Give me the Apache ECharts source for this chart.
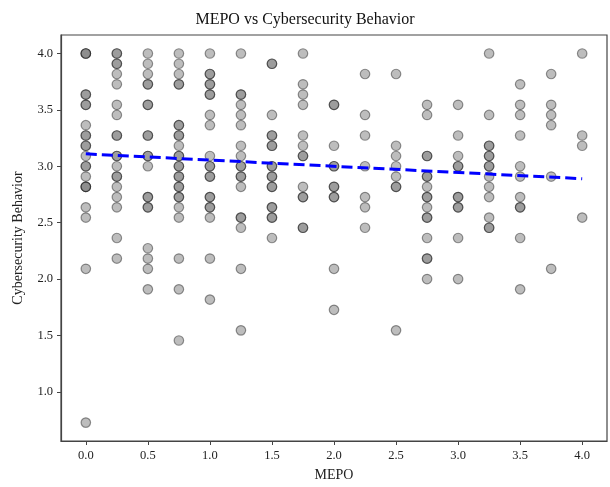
<!DOCTYPE html>
<html>
<head>
<meta charset="utf-8">
<title>MEPO vs Cybersecurity Behavior</title>
<script src="https://cdn.jsdelivr.net/npm/echarts@6/dist/echarts.min.js"></script>
<style>
    html, body { margin: 0; padding: 0; background: #fff; }
    #chart { width: 610px; height: 487px; }
</style>
</head>
<body>
<div id="chart"></div>
<script>
    // MEPO levels (x) and the behaviour scores seen at each level (repeats = overlapping dots)
    var mepoLevels = [0, 0.25, 0.5, 0.75, 1, 1.25, 1.5, 1.75, 2, 2.25, 2.5, 2.75, 3, 3.25, 3.5, 3.75, 4];
    var behavior = [
        [4, 4, 4, 3.636, 3.636, 3.545, 3.545, 3.364, 3.273, 3.273, 3.182, 3.182, 3.091, 3, 3, 2.909, 2.818, 2.818, 2.818, 2.636, 2.545, 2.091, 0.727],
        [4, 4, 3.909, 3.909, 3.818, 3.727, 3.545, 3.455, 3.273, 3.273, 3.091, 3.091, 3, 2.909, 2.909, 2.818, 2.727, 2.636, 2.364, 2.182],
        [4, 3.909, 3.818, 3.727, 3.727, 3.545, 3.545, 3.273, 3.273, 3.091, 3.091, 3, 2.727, 2.727, 2.636, 2.636, 2.273, 2.182, 2.091, 1.909],
        [4, 3.909, 3.818, 3.727, 3.727, 3.364, 3.364, 3.273, 3.273, 3.182, 3.091, 3.091, 3, 3, 2.909, 2.909, 2.818, 2.818, 2.727, 2.727, 2.636, 2.545, 2.182, 1.909, 1.455],
        [4, 3.818, 3.818, 3.727, 3.727, 3.636, 3.636, 3.455, 3.364, 3.091, 3, 3, 2.909, 2.909, 2.727, 2.727, 2.636, 2.636, 2.545, 2.182, 1.818],
        [4, 3.636, 3.636, 3.545, 3.455, 3.364, 3.182, 3.091, 3, 3, 2.909, 2.909, 2.818, 2.545, 2.545, 2.455, 2.091, 1.545],
        [3.909, 3.909, 3.455, 3.273, 3.273, 3.182, 3.182, 3, 3, 2.909, 2.909, 2.818, 2.818, 2.636, 2.636, 2.545, 2.545, 2.364],
        [4, 3.727, 3.636, 3.545, 3.273, 3.182, 3.091, 3.091, 2.818, 2.727, 2.727, 2.455, 2.455],
        [3.545, 3.545, 3.182, 3, 3, 2.818, 2.818, 2.727, 2.727, 2.091, 1.727],
        [3.818, 3.455, 3.273, 3, 2.727, 2.636, 2.455],
        [3.818, 3.182, 3.091, 3, 2.909, 2.818, 2.818, 1.545],
        [3.545, 3.455, 3.091, 3.091, 2.909, 2.909, 2.818, 2.727, 2.727, 2.636, 2.545, 2.545, 2.364, 2.182, 2.182, 2],
        [3.545, 3.273, 3.091, 3, 3, 2.727, 2.727, 2.636, 2.636, 2.364, 2],
        [4, 3.455, 3.182, 3.182, 3.091, 3.091, 3, 3, 2.909, 2.818, 2.727, 2.545, 2.455, 2.455],
        [3.727, 3.545, 3.455, 3.273, 3, 2.909, 2.727, 2.636, 2.636, 2.364, 1.909],
        [3.818, 3.545, 3.455, 3.364, 2.909, 2.091],
        [4, 3.273, 3.182, 2.545]
    ];
    // fitted trend line, end points
    var trendX = [0, 4];
    var trendY = [3.11, 2.89];
    var xTicks = [0, 0.5, 1, 1.5, 2, 2.5, 3, 3.5, 4];
    var yTicks = [1, 1.5, 2, 2.5, 3, 3.5, 4];

    var points = [];
    mepoLevels.forEach(function (m, i) {
        behavior[i].forEach(function (v) { points.push([m, v]); });
    });

    var myChart = echarts.init(document.getElementById('chart'));
    var font = 'Liberation Serif';

    var option = {
        backgroundColor: '#fff',
        animation: false,
        textStyle: { fontFamily: font },
        title: {
            text: 'MEPO vs Cybersecurity Behavior',
            left: 'center',
            top: 7,
            textStyle: { fontFamily: font, fontSize: 16, fontWeight: 'normal', color: '#111' }
        },
        grid: {
            left: 61, right: 3, top: 35, bottom: 46,
            show: true, borderColor: '#444', borderWidth: 1.2, backgroundColor: '#fff'
        },
        xAxis: {
            type: 'value',
            min: -0.2, max: 4.2,
            name: 'MEPO',
            nameLocation: 'middle',
            nameGap: 27,
            nameTextStyle: { fontFamily: font, fontSize: 14, color: '#222' },
            axisLine: { show: true, onZero: false, lineStyle: { color: '#444', width: 1.2 } },
            axisTick: { show: true, length: 4, customValues: xTicks, lineStyle: { color: '#444' } },
            axisLabel: {
                customValues: xTicks, margin: 8, fontSize: 12.5, color: '#222', fontFamily: font,
                formatter: function (v) { return v.toFixed(1); }
            },
            splitLine: { show: false }
        },
        yAxis: {
            type: 'value',
            min: 0.564, max: 4.164,
            name: 'Cybersecurity Behavior',
            nameLocation: 'middle',
            nameGap: 36,
            nameTextStyle: { fontFamily: font, fontSize: 14, color: '#222' },
            axisLine: { show: true, onZero: false, lineStyle: { color: '#444', width: 1.2 } },
            axisTick: { show: true, length: 4, customValues: yTicks, lineStyle: { color: '#444' } },
            axisLabel: {
                customValues: yTicks, margin: 8, fontSize: 12.5, color: '#222', fontFamily: font,
                formatter: function (v) { return v.toFixed(1); }
            },
            splitLine: { show: false }
        },
        series: [
            {
                type: 'scatter',
                data: points,
                symbol: 'circle',
                symbolSize: 9.5,
                itemStyle: {
                    color: 'rgba(128,128,128,0.65)',
                    borderColor: 'rgba(0,0,0,0.5)',
                    borderWidth: 1.2
                },
                z: 2
            },
            {
                type: 'line',
                data: trendX.map(function (x, i) { return [x, trendY[i]]; }),
                symbol: 'none',
                lineStyle: { color: '#0000ff', width: 3, type: [11, 5] },
                z: 3
            }
        ]
    };

    myChart.setOption(option);
</script>
</body>
</html>
